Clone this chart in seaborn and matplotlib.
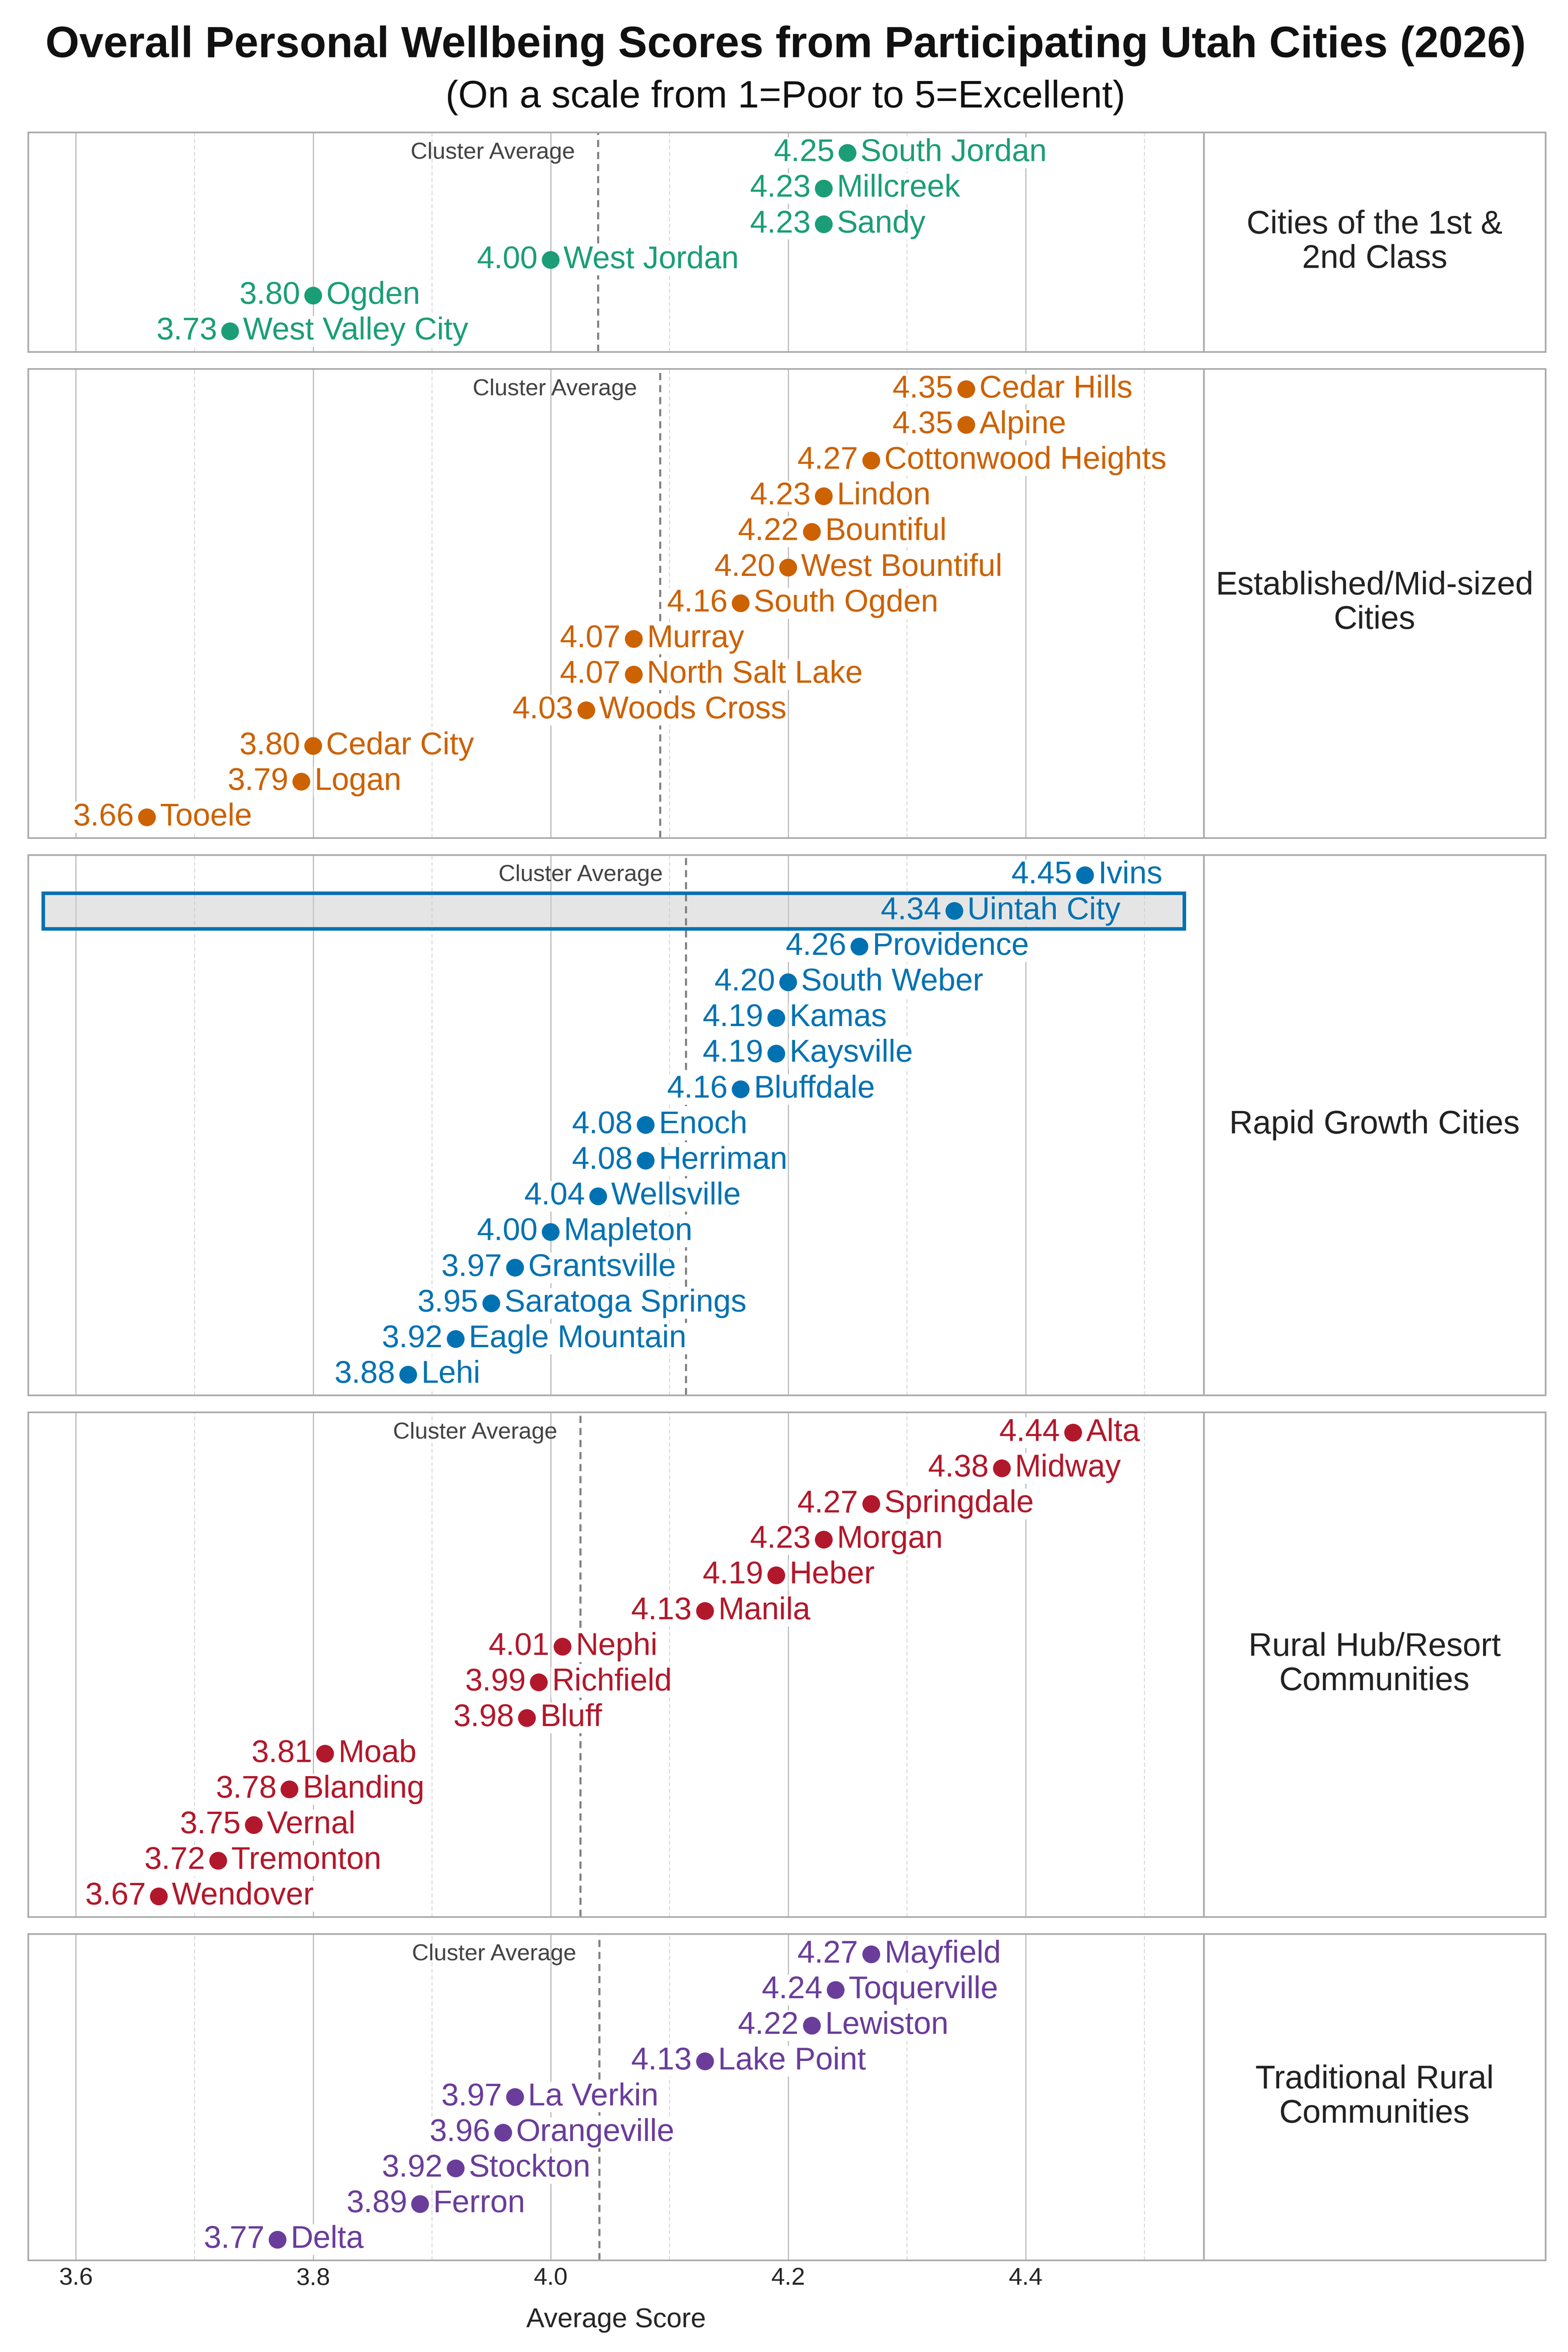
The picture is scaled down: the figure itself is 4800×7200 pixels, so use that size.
import matplotlib
matplotlib.use("Agg")
import matplotlib.pyplot as plt
import seaborn as sns
import pandas as pd
from matplotlib.ticker import MultipleLocator
from matplotlib.patches import Rectangle
import matplotlib.transforms as mtrans

# ---------------- data ----------------
cluster_names = [
    "Cities of the 1st &\n2nd Class",
    "Established/Mid-sized\nCities",
    "Rapid Growth Cities",
    "Rural Hub/Resort\nCommunities",
    "Traditional Rural\nCommunities",
]

c1_cities = ["South Jordan", "Millcreek", "Sandy", "West Jordan", "Ogden", "West Valley City"]
c1_scores = [4.25, 4.23, 4.23, 4.00, 3.80, 3.73]

c2_cities = ["Cedar Hills", "Alpine", "Cottonwood Heights", "Lindon", "Bountiful",
             "West Bountiful", "South Ogden", "Murray", "North Salt Lake", "Woods Cross",
             "Cedar City", "Logan", "Tooele"]
c2_scores = [4.35, 4.35, 4.27, 4.23, 4.22, 4.20, 4.16, 4.07, 4.07, 4.03, 3.80, 3.79, 3.66]

c3_cities = ["Ivins", "Uintah City", "Providence", "South Weber", "Kamas", "Kaysville",
             "Bluffdale", "Enoch", "Herriman", "Wellsville", "Mapleton", "Grantsville",
             "Saratoga Springs", "Eagle Mountain", "Lehi"]
c3_scores = [4.45, 4.34, 4.26, 4.20, 4.19, 4.19, 4.16, 4.08, 4.08, 4.04, 4.00, 3.97,
             3.95, 3.92, 3.88]

c4_cities = ["Alta", "Midway", "Springdale", "Morgan", "Heber", "Manila", "Nephi",
             "Richfield", "Bluff", "Moab", "Blanding", "Vernal", "Tremonton", "Wendover"]
c4_scores = [4.44, 4.38, 4.27, 4.23, 4.19, 4.13, 4.01, 3.99, 3.98, 3.81, 3.78, 3.75,
             3.72, 3.67]

c5_cities = ["Mayfield", "Toquerville", "Lewiston", "Lake Point", "La Verkin",
             "Orangeville", "Stockton", "Ferron", "Delta"]
c5_scores = [4.27, 4.24, 4.22, 4.13, 3.97, 3.96, 3.92, 3.89, 3.77]

cluster_colors = ["#1b9e77", "#cc6200", "#0072b2", "#b2182b", "#6a3d9a"]
highlight_city = "Uintah City"

title = "Overall Personal Wellbeing Scores from Participating Utah Cities (2026)"
subtitle = "(On a scale from 1=Poor to 5=Excellent)"
x_label = "Average Score"
avg_label = "Cluster Average"

groups = [
    (c1_cities, c1_scores),
    (c2_cities, c2_scores),
    (c3_cities, c3_scores),
    (c4_cities, c4_scores),
    (c5_cities, c5_scores),
]

# ---------------- style ----------------
sns.set_theme(style="white")
plt.rcParams['font.family'] = ['Liberation Sans', 'DejaVu Sans']

all_scores = [s for _, sc in groups for s in sc]
xmin = min(all_scores) - 0.1
xmax = max(all_scores) + 0.1
margin = 0.575

fig = plt.figure(figsize=(16, 24), dpi=300)
heights = [len(c) - 1 + 2 * margin for c, _ in groups]
gs = fig.add_gridspec(len(groups), 2, height_ratios=heights, width_ratios=[781, 227],
                      left=0.018, right=0.9856, top=0.9437, bottom=0.039,
                      hspace=0.041, wspace=0.0)

spine_col = "#aaaaaa"
label_fs = 23

for i, ((cities, scores), color, cname) in enumerate(zip(groups, cluster_colors, cluster_names)):
    n = len(cities)
    df = pd.DataFrame({"city": cities, "score": scores, "row": list(range(n))})
    ax = fig.add_subplot(gs[i, 0])
    lab = fig.add_subplot(gs[i, 1])

    # highlight row
    if highlight_city in cities:
        j = cities.index(highlight_city)
        trans = mtrans.blended_transform_factory(ax.transAxes, ax.transData)
        rect = Rectangle((0.0128, j - 0.5), 0.9705, 1.0, transform=trans,
                         facecolor="#cccccc", alpha=0.5, edgecolor="none", zorder=1)
        ax.add_patch(rect)
        rect2 = Rectangle((0.0128, j - 0.5), 0.9705, 1.0, transform=trans,
                          facecolor="none", edgecolor=color, lw=2.6, zorder=5)
        ax.add_patch(rect2)

    sns.scatterplot(data=df, x="score", y="row", color=color, s=170, edgecolor="none",
                    ax=ax, zorder=6, legend=False)

    mean_val = df["score"].mean()
    ax.axvline(mean_val, color="#808080", lw=1.5, ls=(0, (3.5, 2.4)), zorder=2)
    ax.annotate(avg_label, xy=(mean_val, 0), xytext=(-17, 0), textcoords="offset points",
                ha="right", va="center", fontsize=17, color="#444444", zorder=3)

    for j, (c, s) in enumerate(zip(cities, scores)):
        bg = "#e5e5e5" if c == highlight_city else "white"
        bb = dict(boxstyle="square,pad=0.02", fc=bg, ec="none")
        ax.annotate(f"{s:.2f}", xy=(s, j), xytext=(-9.5, 0), textcoords="offset points",
                    ha="right", va="center", fontsize=label_fs, color=color, bbox=bb, zorder=4)
        ax.annotate(c, xy=(s, j), xytext=(9.5, 0), textcoords="offset points",
                    ha="left", va="center", fontsize=label_fs, color=color, bbox=bb, zorder=4)

    ax.set_xlim(xmin, xmax)
    ax.set_ylim(n - 1 + margin, -margin)
    ax.xaxis.set_major_locator(MultipleLocator(0.2))
    ax.xaxis.set_minor_locator(MultipleLocator(0.1))
    ax.set_axisbelow(True)
    ax.grid(which="major", axis="x", color="#b8b8b8", lw=0.8)
    ax.grid(which="minor", axis="x", color="#d2d2d2", lw=0.6, ls=(0, (5, 3)))
    ax.grid(which="both", axis="y", visible=False)
    ax.set_yticks([])
    ax.set_ylabel("")
    ax.tick_params(axis="x", which="both", length=0, labelsize=18, pad=5)
    if i < len(groups) - 1:
        ax.set_xticklabels([])
        ax.set_xlabel("")
    else:
        ax.set_xlabel(x_label, fontsize=20, labelpad=13)
    for sp in ax.spines.values():
        sp.set_color(spine_col)
        sp.set_linewidth(1.2)
        sp.set_visible(True)

    lab.set_xticks([])
    lab.set_yticks([])
    lab.set_xlim(0, 1)
    lab.set_ylim(0, 1)
    for sp in lab.spines.values():
        sp.set_color(spine_col)
        sp.set_linewidth(1.2)
        sp.set_visible(True)
    lab.text(0.5, 0.5, cname, ha="center", va="center", fontsize=24, color="#222222",
             linespacing=1.15)

fig.text(0.501, 0.9805, title, ha="center", va="center", fontsize=32, fontweight="bold",
         color="#111111")
fig.text(0.501, 0.9585, subtitle, ha="center", va="center", fontsize=28, color="#111111")

fig.savefig("out.png", dpi=300)
